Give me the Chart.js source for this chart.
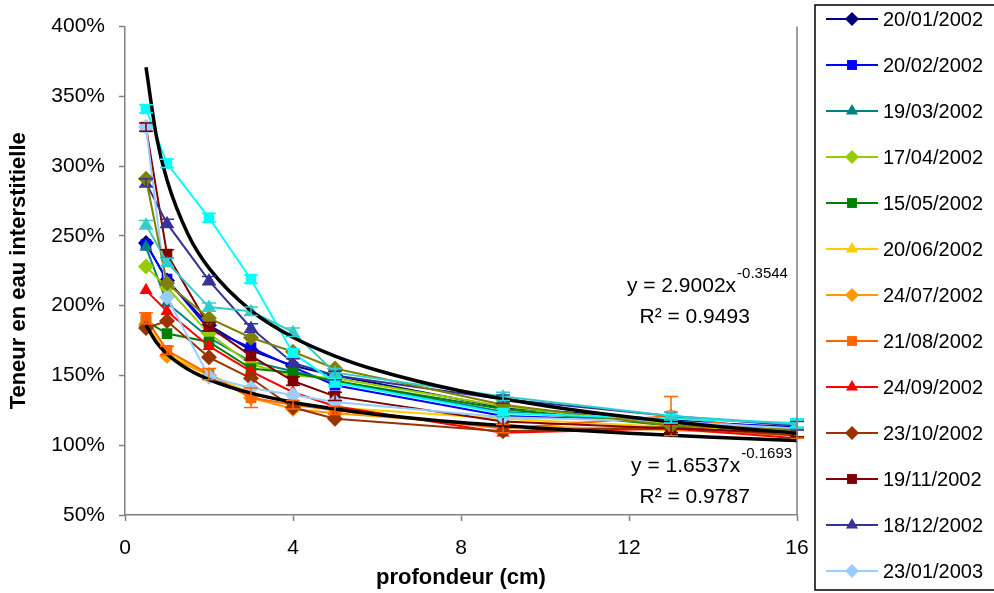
<!DOCTYPE html>
<html>
<head>
<meta charset="utf-8">
<script src="https://cdn.jsdelivr.net/npm/chart.js@4.4.0/dist/chart.umd.min.js"></script>
<style>
  html, body { margin: 0; padding: 0; background: #fff; }
</style>
</head>
<body>
<canvas id="graph" width="994" height="593"></canvas>
<script>
// depth of each sample (cm)
const depths = [0.5, 1, 2, 3, 4, 5, 9, 13, 16];

// water content (%) per sampling date
const d20012002 = [245, 218, 186, 168, 157, 150, 127, 118, 112];
const d20022002 = [244, 219, 183, 170, 156, 143, 121, 117, 113];
const d19032002 = [242, 202, 177, 160, 153, 146, 124, 116, 111];
const d17042002 = [228, 213, 180, 158, 150, 148, 128, 115, 112];
const d15052002 = [189, 180, 174, 155, 152, 146, 126, 114, 110];
const d20062002 = [190, 166, 151, 137, 130, 127, 119, 113, 109];
const d24072002 = [186, 164, 150, 134, 126, 123, 114, 111, 107];
const d21082002 = [191, 168, 151, 134, 129, 125, 112, 121, 108];
const d24092002 = [211, 196, 171, 153, 138, 128, 109, 112, 105];
const d23102002 = [184, 189, 163, 148, 127, 119, 110, 113, 107];
const d19112002 = [328, 237, 185, 164, 146, 135, 117, 112, 109];
const d18122002 = [288, 259, 218, 184, 159, 150, 133, 121, 114];
const d23012003 = [328, 206, 149, 141, 136, 131, 120, 117, 112];
// series whose legend entries fall off the bottom of the legend box
const extraA = [291, 216, 191, 177, 167, 155, 129, 114, 111];
const extraB = [341, 302, 263, 219, 166, 145, 123, 119, 116];
const extraC = [258, 231, 199, 196, 181, 152, 135, 121, 115];

// error bars (+/- %)
const err21082002 = [4, 3, 4, 7, 3, 3, 3, 14, 3];
const errSmall = [3, 3, 3, 3, 3, 3, 3, 3, 3];

// power trend lines
const trendX = [0.5, 0.75, 1, 1.5, 2, 3, 4, 5, 6, 8, 10, 12, 14, 16];
const trendUpper = [370.8, 321.1, 290.0, 251.2, 226.9, 196.5, 177.4, 163.9, 153.7, 138.8, 128.3, 120.2, 113.8, 108.6];
const trendLower = [186.0, 173.6, 165.4, 154.4, 147.1, 137.3, 130.8, 125.9, 122.1, 116.3, 112.0, 108.6, 105.8, 103.4];

const labels = ['20/01/2002', '20/02/2002', '19/03/2002', '17/04/2002', '15/05/2002', '20/06/2002',
  '24/07/2002', '21/08/2002', '24/09/2002', '23/10/2002', '19/11/2002', '18/12/2002', '23/01/2003',
  '20/02/2003', '19/03/2003', '17/04/2003'];
const values = [d20012002, d20022002, d19032002, d17042002, d15052002, d20062002, d24072002, d21082002,
  d24092002, d23102002, d19112002, d18122002, d23012003, extraA, extraB, extraC];
const colors = ['#000080', '#0000FF', '#008080', '#99CC00', '#008000', '#FFCC00', '#FF9900', '#FF6600',
  '#FF0000', '#993300', '#800000', '#333399', '#99CCFF', '#808000', '#00FFFF', '#33CCCC'];
const markers = ['rectRot', 'rect', 'triangle', 'rectRot', 'rect', 'triangle', 'rectRot', 'rect',
  'triangle', 'rectRot', 'rect', 'triangle', 'rectRot', 'rectRot', 'rect', 'triangle'];
const errors = [null, null, null, null, null, null, null, err21082002, null, null, errSmall, errSmall,
  null, null, errSmall, errSmall];

const FONT = 'Liberation Sans, Arial, sans-serif';

const datasets = values.map((vals, i) => ({
  label: labels[i],
  data: depths.map((d, j) => ({ x: d, y: vals[j] })),
  borderColor: colors[i],
  backgroundColor: colors[i],
  borderWidth: 2,
  pointStyle: markers[i],
  pointRadius: markers[i] === 'rectRot' ? 8 : 7.5,
  pointBorderWidth: 0,
  errors: errors[i],
  order: 100 - i,
}));

datasets.push({
  label: 'trend upper',
  data: trendX.map((d, j) => ({ x: d, y: trendUpper[j] })),
  borderColor: '#000', borderWidth: 3.5, pointRadius: 0, cubicInterpolationMode: 'monotone', order: 0, trend: true,
});
datasets.push({
  label: 'trend lower',
  data: trendX.map((d, j) => ({ x: d, y: trendLower[j] })),
  borderColor: '#000', borderWidth: 3.5, pointRadius: 0, cubicInterpolationMode: 'monotone', order: 0, trend: true,
});

const annotations = [
  { x: 11.95, y: 214, eq: 'y = 2.9002x', exp: '-0.3544', r2x: 12.25, r2y: 192, r2: 'R\u00B2 = 0.9493' },
  { x: 12.05, y: 85, eq: 'y = 1.6537x', exp: '-0.1693', r2x: 12.25, r2y: 63, r2: 'R\u00B2 = 0.9787' },
];

const extras = {
  id: 'extras',
  afterDatasetsDraw(chart) {
    const ctx = chart.ctx;
    const xs = chart.scales.x, ys = chart.scales.y;
    // error bars
    chart.data.datasets.forEach((ds) => {
      if (!ds.errors) return;
      ctx.save();
      ctx.strokeStyle = ds.borderColor;
      ctx.lineWidth = 1.5;
      ds.data.forEach((p, j) => {
        const e = ds.errors[j];
        const px = xs.getPixelForValue(p.x);
        const y1 = ys.getPixelForValue(p.y + e), y2 = ys.getPixelForValue(p.y - e);
        ctx.beginPath();
        ctx.moveTo(px, y1); ctx.lineTo(px, y2);
        ctx.moveTo(px - 7, y1); ctx.lineTo(px + 7, y1);
        ctx.moveTo(px - 7, y2); ctx.lineTo(px + 7, y2);
        ctx.stroke();
      });
      ctx.restore();
    });
  },
  afterDraw(chart) {
    const ctx = chart.ctx;
    const area = chart.chartArea;
    const xs = chart.scales.x, ys = chart.scales.y;
    ctx.save();
    // right edge of plot area
    ctx.strokeStyle = '#808080';
    ctx.lineWidth = 1.5;
    ctx.beginPath();
    ctx.moveTo(area.right, area.top);
    ctx.lineTo(area.right, area.bottom);
    ctx.stroke();

    // trend line equations
    ctx.fillStyle = '#000';
    ctx.textBaseline = 'middle';
    ctx.textAlign = 'left';
    annotations.forEach((a) => {
      const x = xs.getPixelForValue(a.x), y = ys.getPixelForValue(a.y);
      ctx.font = '21px ' + FONT;
      ctx.fillText(a.eq, x, y);
      const w = ctx.measureText(a.eq).width;
      ctx.font = '15px ' + FONT;
      ctx.fillText(a.exp, x + w + 1, y - 12);
      ctx.font = '21px ' + FONT;
      ctx.fillText(a.r2, xs.getPixelForValue(a.r2x), ys.getPixelForValue(a.r2y));
    });

    // legend box (cut off at the right and bottom like the original)
    const lx = 815, ly = 5;
    ctx.strokeStyle = '#000';
    ctx.lineWidth = 1.5;
    ctx.strokeRect(lx, ly, 300, 585);
    ctx.font = '20px ' + FONT;
    chart.data.datasets.forEach((ds, i) => {
      if (ds.trend) return;
      const cy = 19 + 46 * i;
      if (cy > chart.height) return;
      ctx.strokeStyle = ds.borderColor;
      ctx.lineWidth = 2;
      ctx.beginPath();
      ctx.moveTo(826, cy); ctx.lineTo(878, cy);
      ctx.stroke();
      ctx.fillStyle = ds.backgroundColor;
      Chart.helpers.drawPoint(ctx, { pointStyle: ds.pointStyle, radius: 7, rotation: 0, borderWidth: 0 }, 852, cy);
      ctx.fillStyle = '#000';
      ctx.fillText(ds.label, 883, cy + 1);
    });
    ctx.restore();
  },
};

new Chart(document.getElementById('graph'), {
  type: 'line',
  data: { datasets },
  options: {
    responsive: false,
    animation: false,
    devicePixelRatio: 1,
    layout: { padding: { left: 0, top: 25, right: 197, bottom: 0 } },
    plugins: {
      legend: { display: false },
      tooltip: { enabled: false },
    },
    scales: {
      x: {
        type: 'linear',
        min: 0,
        max: 16,
        afterFit: (s) => { s.height = 78; },
        ticks: { stepSize: 4, color: '#000', font: { family: FONT, size: 21 }, padding: 15 },
        grid: { drawOnChartArea: false, tickLength: 6, tickColor: '#808080', tickWidth: 1.5 },
        border: { color: '#808080', width: 1.5 },
        title: { display: true, text: 'profondeur (cm)', color: '#000', font: { family: FONT, size: 22, weight: 'bold' }, padding: { top: 0, bottom: 2 } },
      },
      y: {
        min: 50,
        max: 400,
        afterFit: (s) => { s.width = 125; },
        ticks: { stepSize: 50, color: '#000', font: { family: FONT, size: 21 }, padding: 14, callback: (v) => v + '%' },
        grid: { drawOnChartArea: false, tickLength: 6, tickColor: '#808080', tickWidth: 1.5 },
        border: { color: '#808080', width: 1.5 },
        title: { display: true, text: 'Teneur en eau interstitielle', color: '#000', font: { family: FONT, size: 22, weight: 'bold' }, padding: { top: 6 } },
      },
    },
  },
  plugins: [extras],
});
</script>
</body>
</html>
